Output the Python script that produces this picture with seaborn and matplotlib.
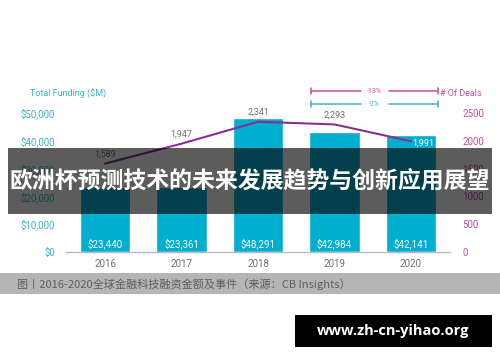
import matplotlib
matplotlib.use("Agg")
import matplotlib.pyplot as plt
import matplotlib.patches as mpatches
import seaborn as sns
import pandas as pd
import numpy as np

years = ["2016", "2017", "2018", "2019", "2020"]
funding = [23440, 23361, 48291, 42984, 42141]
deals = [1589, 1947, 2341, 2293, 1991]
funding_labels = ["$23,440", "$23,361", "$48,291", "$42,984", "$42,141"]
deals_labels = ["1,589", "1,947", "2,341", "2,293", "1,991"]
left_ticks = [0, 10000, 20000, 30000, 40000, 50000]
left_tick_labels = ["$0", "$10,000", "$20,000", "$30,000", "$40,000", "$50,000"]
right_ticks = [0, 500, 1000, 1500, 2000, 2500]
right_tick_labels = ["0", "500", "1000", "1500", "2000", "2500"]

title = "欧洲杯预测技术的未来发展趋势与创新应用展望"
caption = "图丨2016-2020全球金融科技融资金额及事件（来源：CB Insights）"
watermark = "www.zh-cn-yihao.org"

BAR = "#00AECF"
LINE = "#8B2F8E"
TEAL_TXT = "#3DB3CB"
MAG_TXT = "#C24DA6"
GRAY_TXT = "#6E6E6E"

sns.set_theme(style="white")
plt.rcParams["font.family"] = ["Roboto", "DejaVu Sans"]

df = pd.DataFrame({"year": years, "funding": funding, "deals": deals})

W, H = 500, 362
fig = plt.figure(figsize=(5.0, 3.62), dpi=100)
fig.patch.set_facecolor("white")

ax = fig.add_axes([66 / W, 1 - 252 / H, (450 - 66) / W, 153 / H])
sns.barplot(data=df, x="year", y="funding", ax=ax, color=BAR, width=0.66,
            saturation=1, errorbar=None)
ax.set_xlim(-0.51, 4.51)
ax.set_ylim(0, 55000)
ax.set_yticks(left_ticks)
ax.set_yticklabels(left_tick_labels, color=TEAL_TXT, fontsize=7)
ax.tick_params(axis="y", length=0, pad=8)
ax.tick_params(axis="x", length=0, pad=5, labelsize=7, labelcolor=GRAY_TXT)
ax.set_xlabel("")
ax.set_ylabel("")
for s in ["top", "left", "right"]:
    ax.spines[s].set_visible(False)
ax.spines["bottom"].set_color("#BBBBBB")
ax.spines["bottom"].set_linewidth(1.0)

for i, lab in enumerate(funding_labels):
    ax.text(i, 2900, lab, ha="center", va="center", color="white", fontsize=7)

ax2 = ax.twinx()
sns.pointplot(x=years, y=deals, ax=ax2, color=LINE, markers="", linewidth=1.5,
              errorbar=None)
ax2.set_xlim(-0.51, 4.51)
ax2.set_ylim(0, 2750)
ax2.set_yticks(right_ticks)
ax2.set_yticklabels(right_tick_labels, color=MAG_TXT, fontsize=7)
ax2.tick_params(axis="y", length=0, pad=9)
for s in ["top", "left", "right", "bottom"]:
    ax2.spines[s].set_visible(False)
ax2.set_ylabel("")

for i, (v, lab) in enumerate(zip(deals, deals_labels)):
    if i == 4:
        ax2.annotate(lab, (i, v), xytext=(9, -1.5), textcoords="offset points",
                     ha="center", va="center", color="white", fontsize=6.5)
    else:
        ax2.annotate(lab, (i, v), xytext=(0, 7), textcoords="offset points",
                     ha="center", va="center", color=GRAY_TXT, fontsize=6.5)

# axis titles
fig.text(30 / W, 1 - 94 / H, "Total Funding ($M)", color=TEAL_TXT, fontsize=6.5,
         ha="left", va="center")
fig.text(440 / W, 1 - 94 / H, "# Of Deals", color=MAG_TXT, fontsize=6.5,
         ha="left", va="center")

# change brackets
def bracket(y, color, label):
    x0, x1 = 311, 438
    yy = 1 - y / H
    xm = (x0 + x1) / 2
    fig.add_artist(plt.Line2D([x0 / W, (xm - 14) / W], [yy, yy], color=color, lw=1.1))
    fig.add_artist(plt.Line2D([(xm + 14) / W, x1 / W], [yy, yy], color=color, lw=1.1))
    for xe in (x0, x1):
        fig.add_artist(plt.Line2D([xe / W, xe / W], [yy - 3 / H, yy + 3 / H], color=color, lw=1.1))
    fig.text(xm / W, yy, label, color=color, fontsize=5, ha="center", va="center")

bracket(91, MAG_TXT, "-13%")
bracket(104, TEAL_TXT, "-2%")

# caption band
fig.add_artist(mpatches.Rectangle((0, 1 - 294 / H), 1, 21 / H, transform=fig.transFigure,
                                  facecolor="#B5B5B5", edgecolor="none", zorder=5))
fig.text(17 / W, 1 - 284 / H, caption, color="#5E5E5E", fontsize=8.0, ha="left",
         va="center", family=["Noto Sans CJK SC", "DejaVu Sans"], zorder=6)

# title overlay
fig.add_artist(mpatches.Rectangle((8 / W, 1 - 214 / H), 484 / W, 66 / H, transform=fig.transFigure,
                                  facecolor="black", alpha=0.64, edgecolor="none", zorder=10))
fig.text(250 / W, 1 - 182 / H, title, color="white", fontsize=16.5, fontweight="bold",
         ha="center", va="center", family=["Noto Sans CJK SC", "DejaVu Sans"], zorder=11)

# watermark
fig.add_artist(mpatches.Rectangle((295 / W, 1 - 347 / H), 197 / W, 32 / H, transform=fig.transFigure,
                                  facecolor="black", edgecolor="none", zorder=10))
fig.text(393 / W, 1 - 331 / H, watermark, color="white", fontsize=10.5, fontweight="bold",
         ha="center", va="center", family=["Open Sans", "DejaVu Sans"], zorder=11)

fig.savefig("out.png", dpi=100)
